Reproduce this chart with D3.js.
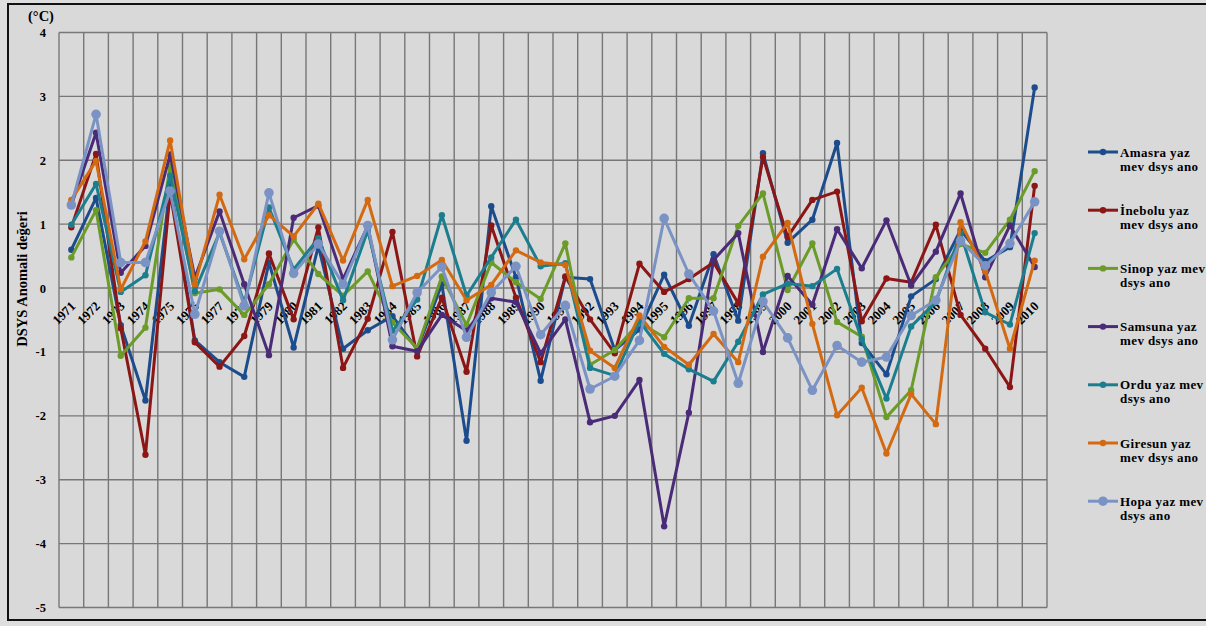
<!DOCTYPE html>
<html>
<head>
<meta charset="utf-8">
<script src="https://cdn.jsdelivr.net/npm/d3@7"></script>
<style>
  html, body { margin: 0; padding: 0; background: #dedede; }
  svg { display: block; }
  text { font-family: "Liberation Serif", "DejaVu Serif", serif; font-weight: bold; fill: #000; }
</style>
</head>
<body>
<svg id="chart" width="1206" height="626"></svg>
<script>
// Years on the category axis
const years = [1971, 1972, 1973, 1974, 1975, 1976, 1977, 1978, 1979, 1980,
               1981, 1982, 1983, 1984, 1985, 1986, 1987, 1988, 1989, 1990,
               1991, 1992, 1993, 1994, 1995, 1996, 1997, 1998, 1999, 2000,
               2001, 2002, 2003, 2004, 2005, 2006, 2007, 2008, 2009, 2010];

// Value axis ticks (°C)
const yTicks = [4, 3, 2, 1, 0, -1, -2, -3, -4, -5];

// Summer DSYS anomaly per station
const amasra  = [0.60, 1.41, -0.58, -1.76, 1.62, -0.82, -1.16, -1.39, 0.40, -0.93,
                 0.66, -0.95, -0.66, -0.44, -0.96, 0.06, -2.39, 1.28, 0.17, -1.45,
                 0.17, 0.14, -0.97, -0.65, 0.21, -0.59, 0.53, -0.51, 2.11, 0.71,
                 1.07, 2.27, -0.86, -1.35, -0.13, 0.14, 0.91, 0.42, 0.64, 3.14];
const inebolu = [0.95, 2.10, -0.63, -2.61, 1.50, -0.85, -1.23, -0.75, 0.54, -0.49,
                 0.95, -1.25, -0.48, 0.88, -1.07, -0.15, -1.31, 0.98, -0.15, -1.16,
                 0.18, -0.49, -1.02, 0.38, -0.06, 0.14, 0.40, -0.24, 2.05, 0.80,
                 1.38, 1.51, -0.52, 0.15, 0.09, 0.99, -0.42, -0.95, -1.55, 1.60];
const sinop   = [0.48, 1.22, -1.06, -0.62, 1.92, -0.08, -0.02, -0.42, 0.06, 0.76,
                 0.22, -0.12, 0.26, -0.54, -0.94, 0.18, -0.58, 0.40, 0.09, -0.17,
                 0.70, -1.20, -0.97, -0.54, -0.77, -0.16, -0.16, 0.97, 1.48, -0.03,
                 0.70, -0.53, -0.76, -2.02, -1.60, 0.17, 0.69, 0.55, 1.07, 1.83];
const samsuna = [1.30, 2.43, 0.24, 0.66, 2.09, 0.16, 1.20, 0.06, -1.05, 1.10,
                 1.29, 0.14, 0.97, -0.91, -0.99, -0.42, -0.67, -0.16, -0.22, -1.02,
                 -0.49, -2.10, -2.00, -1.44, -3.73, -1.95, 0.44, 0.86, -1.00, 0.19,
                 -0.26, 0.92, 0.31, 1.06, 0.04, 0.57, 1.48, 0.17, 0.98, 0.33];
const ordu    = [0.99, 1.63, -0.06, 0.20, 1.76, -0.05, 0.87, -0.23, 1.26, 0.29,
                 0.78, -0.19, 0.90, -0.67, -0.18, 1.14, -0.12, 0.48, 1.07, 0.34,
                 0.39, -1.25, -1.37, -0.52, -1.03, -1.27, -1.46, -0.84, -0.10, 0.07,
                 0.03, 0.30, -0.80, -1.73, -0.60, -0.22, 0.86, -0.38, -0.57, 0.86];
const giresun = [1.38, 1.99, -0.02, 0.73, 2.31, 0.06, 1.46, 0.45, 1.14, 0.81,
                 1.32, 0.43, 1.38, 0.03, 0.19, 0.44, -0.19, 0.05, 0.59, 0.40,
                 0.36, -0.98, -1.25, -0.43, -0.92, -1.20, -0.72, -1.16, 0.49, 1.02,
                 -0.56, -1.99, -1.56, -2.59, -1.66, -2.13, 1.03, 0.26, -0.95, 0.43];
const hopa    = [1.30, 2.72, 0.40, 0.40, 1.52, -0.41, 0.89, -0.28, 1.49, 0.23,
                 0.69, 0.06, 0.98, -0.81, -0.07, 0.33, -0.77, -0.07, 0.34, -0.73,
                 -0.27, -1.58, -1.38, -0.82, 1.09, 0.22, -0.36, -1.49, -0.21, -0.78,
                 -1.60, -0.90, -1.16, -1.08, -0.43, -0.19, 0.74, 0.35, 0.70, 1.35];

// Legend text, two lines per station
const seriesNames = [
  ["Amasra yaz", "mev dsys ano"],
  ["İnebolu yaz", "mev dsys ano"],
  ["Sinop yaz mev", "dsys ano"],
  ["Samsuna yaz", "mev dsys ano"],
  ["Ordu yaz mev", "dsys ano"],
  ["Giresun yaz", "mev dsys ano"],
  ["Hopa yaz mev", "dsys ano"]
];
const seriesColors = ["#1d4c8c", "#8c1616", "#6b9b28", "#4a2b78", "#1b7e8e", "#d36a12", "#7a93c4"];
const markerRadius = [3.2, 3.2, 3.2, 3.2, 3.2, 3.2, 4.8];

const seriesValues = [amasra, inebolu, sinop, samsuna, ordu, giresun, hopa];
const series = seriesValues.map((vals, i) => ({
  name: seriesNames[i],
  color: seriesColors[i],
  r: markerRadius[i],
  points: years.map((yr, j) => ({ year: yr, value: vals[j] }))
}));

const svg = d3.select("#chart");

// Chart background and frame
svg.append("rect").attr("x", 8).attr("y", 4).attr("width", 1210).attr("height", 616)
  .attr("fill", "#d9d9d9").attr("stroke", "#111").attr("stroke-width", 2);

const plot = { left: 59, right: 1047, top: 32.5, bottom: 607.5 };

const x = d3.scaleBand().domain(years).range([plot.left, plot.right]).paddingInner(0).paddingOuter(0);
const y = d3.scaleLinear().domain([-5, 4]).range([plot.bottom, plot.top]);
const cx = yr => x(yr) + x.bandwidth() / 2;

const grid = svg.append("g").attr("stroke", "#777").attr("stroke-width", 1.4);

// Horizontal gridlines at each tick
grid.selectAll("line.h").data(yTicks).join("line")
  .attr("class", "h")
  .attr("x1", plot.left).attr("x2", plot.right)
  .attr("y1", d => y(d)).attr("y2", d => y(d));

// Vertical gridlines on category boundaries
const bounds = years.map(yr => x(yr)).concat([plot.right]);
grid.selectAll("line.v").data(bounds).join("line")
  .attr("class", "v")
  .attr("x1", d => d).attr("x2", d => d)
  .attr("y1", plot.top).attr("y2", plot.bottom);

// Value axis labels (plain hyphen for negatives)
const yAxis = d3.axisLeft(y).tickValues(yTicks).tickSize(0).tickPadding(13)
  .tickFormat(d => String(d));
const gy = svg.append("g").attr("transform", `translate(${plot.left},0)`).call(yAxis);
gy.select(".domain").remove();
gy.selectAll("text").attr("font-size", 12.5)
  .attr("font-family", "Liberation Serif, serif").attr("font-weight", "bold").attr("fill", "#000");

// Year labels, crossing at zero and rotated
const xAxis = d3.axisBottom(x).tickSize(0).tickPadding(0);
const gx = svg.append("g").attr("transform", `translate(0,${y(0)})`).call(xAxis);
gx.select(".domain").remove();
gx.selectAll("text")
  .attr("font-size", 13)
  .attr("font-family", "Liberation Serif, serif").attr("font-weight", "bold").attr("fill", "#000")
  .attr("text-anchor", "end")
  .attr("dy", "0.75em")
  .attr("transform", "translate(-2,12) rotate(-45)");

// Axis title and unit
svg.append("text")
  .attr("transform", `translate(27,${279}) rotate(-90)`)
  .attr("text-anchor", "middle")
  .attr("font-size", 14.5)
  .text("DSYS Anomali değeri");
svg.append("text").attr("x", 28).attr("y", 21).attr("font-size", 14.5).text("(°C)");

// Series lines and markers
const line = d3.line().x(d => cx(d.year)).y(d => y(d.value));
const sg = svg.append("g").selectAll("g").data(series).join("g");
sg.append("path")
  .attr("d", d => line(d.points))
  .attr("fill", "none")
  .attr("stroke", d => d.color)
  .attr("stroke-width", 3)
  .attr("stroke-linejoin", "round");
sg.each(function (s) {
  d3.select(this).selectAll("circle").data(s.points).join("circle")
    .attr("cx", d => cx(d.year)).attr("cy", d => y(d.value))
    .attr("r", s.r).attr("fill", s.color);
});

// Legend
const legend = svg.append("g").selectAll("g").data(series).join("g")
  .attr("transform", (d, i) => `translate(1088,${152 + i * 58.2})`);
legend.append("line").attr("x1", 0).attr("x2", 30).attr("y1", 0).attr("y2", 0)
  .attr("stroke", d => d.color).attr("stroke-width", 3);
legend.append("circle").attr("cx", 15).attr("cy", 0).attr("r", d => d.r)
  .attr("fill", d => d.color);
legend.append("text").attr("x", 32).attr("y", 4.5).attr("font-size", 13)
  .attr("letter-spacing", 0.4).text(d => d.name[0]);
legend.append("text").attr("x", 32).attr("y", 18.5).attr("font-size", 13)
  .attr("letter-spacing", 0.4).text(d => d.name[1]);
</script>
</body>
</html>
